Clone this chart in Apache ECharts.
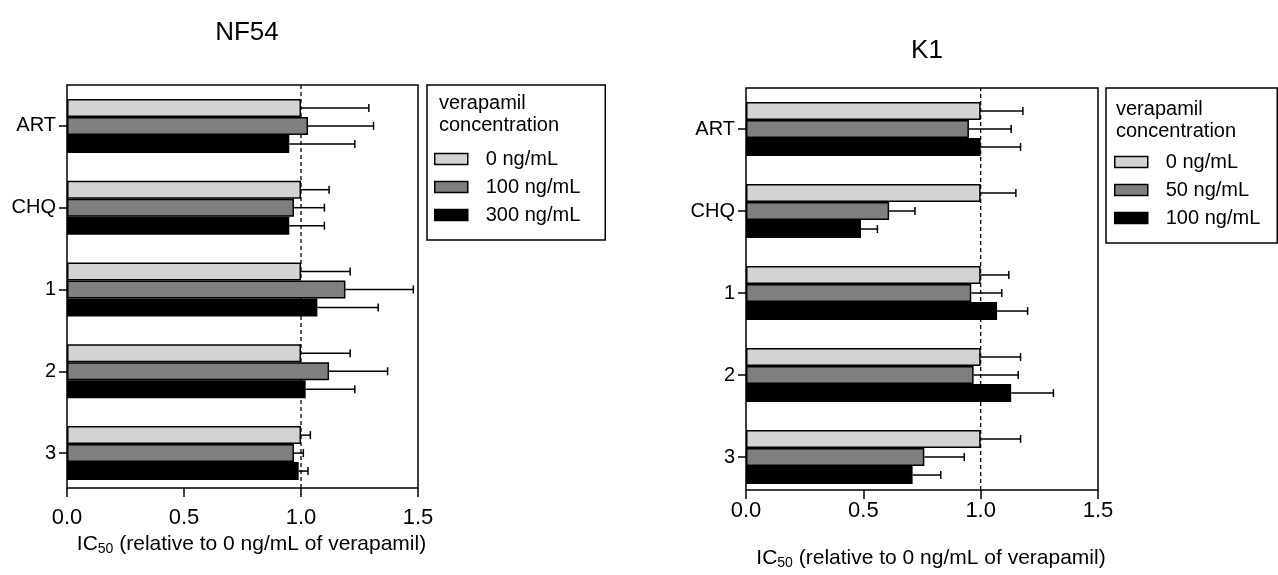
<!DOCTYPE html>
<html><head><meta charset="utf-8">
<script src="https://cdn.jsdelivr.net/npm/echarts@6/dist/echarts.min.js"></script>
<style>
html,body{margin:0;padding:0;background:#fff;}
.ch{position:absolute;left:0;top:0;width:1278px;height:575px;}
</style></head><body>
<div id="c1" class="ch"></div><div id="c2" class="ch"></div>
<script>
// ---------------- data ----------------
const categories = ['ART', 'CHQ', '1', '2', '3'];
const xAxisMin = 0, xAxisMax = 1.5, xAxisStep = 0.5;
const legendTitle = 'verapamil\nconcentration';
const axisTitle = 'IC{sub|50} (relative to 0 ng/mL of verapamil)';
const refLine = 1.0;

// NF54 panel
const nf54Title = 'NF54';
const nf54Names = ['0 ng/mL', '100 ng/mL', '300 ng/mL'];
const nf54_v0    = [1.00, 1.00, 1.00, 1.00, 1.00];
const nf54_v0_sd = [0.29, 0.12, 0.21, 0.21, 0.04];
const nf54_v1    = [1.03, 0.97, 1.19, 1.12, 0.97];
const nf54_v1_sd = [0.28, 0.13, 0.29, 0.25, 0.04];
const nf54_v2    = [0.95, 0.95, 1.07, 1.02, 0.99];
const nf54_v2_sd = [0.28, 0.15, 0.26, 0.21, 0.04];

// K1 panel
const k1Title = 'K1';
const k1Names = ['0 ng/mL', '50 ng/mL', '100 ng/mL'];
const k1_v0    = [1.00, 1.00, 1.00, 1.00, 1.00];
const k1_v0_sd = [0.18, 0.15, 0.12, 0.17, 0.17];
const k1_v1    = [0.95, 0.61, 0.96, 0.97, 0.76];
const k1_v1_sd = [0.18, 0.11, 0.13, 0.19, 0.17];
const k1_v2    = [1.00, 0.49, 1.07, 1.13, 0.71];
const k1_v2_sd = [0.17, 0.07, 0.13, 0.18, 0.12];

// ---------------- styles ----------------
const FONT = '"Liberation Sans", Arial, Helvetica, sans-serif';
const barColors = ['#d3d3d3', '#7f7f7f', '#000000'];
const GAP = 0.34;

function errorSeries(means, sds, idx) {
  return {
    type: 'custom', xAxisIndex: 0, yAxisIndex: 0, z: 5, silent: true,
    encode: { x: 1, y: 0 },
    data: means.map((m, i) => [i, m, sds[i]]),
    renderItem(params, api) {
      const ci = api.value(0), m = api.value(1), sd = api.value(2);
      const band = api.size([0, 1])[1];
      const bw = band * (1 - GAP) / 3;
      const p0 = api.coord([m, ci]);
      const p1 = api.coord([m + sd, ci]);
      const y = p0[1] + (idx - 1) * bw;
      const cap = 4;
      return {
        type: 'group', children: [
          { type: 'line', shape: { x1: p0[0], y1: y, x2: p1[0], y2: y }, style: { stroke: '#000', lineWidth: 1.5 } },
          { type: 'line', shape: { x1: p1[0], y1: y - cap, x2: p1[0], y2: y + cap }, style: { stroke: '#000', lineWidth: 1.5 } }
        ]
      };
    }
  };
}

function makeOption(cfg) {
  const series = [];
  cfg.values.forEach((vals, k) => {
    series.push({
      name: cfg.names[k], type: 'bar', xAxisIndex: 0, yAxisIndex: 0, z: 3,
      data: vals, barGap: '0%', barCategoryGap: (GAP * 100) + '%',
      itemStyle: { color: barColors[k], borderColor: '#000', borderWidth: 1.5 },
      emphasis: { disabled: true }
    });
  });
  cfg.values.forEach((vals, k) => series.push(errorSeries(vals, cfg.sds[k], k)));
  series.push({
    type: 'line', xAxisIndex: 1, yAxisIndex: 1, z: 1, silent: true,
    data: [[refLine, 0], [refLine, 1]], symbol: 'none',
    lineStyle: { color: '#000', width: 1.3, type: [4, 3] }
  });
  return {
    animation: false,
    backgroundColor: 'transparent',
    textStyle: { fontFamily: FONT },
    title: [
      { text: cfg.title, left: cfg.titleCx, top: cfg.titleTop, textAlign: 'center',
        textStyle: { fontFamily: FONT, fontSize: 26, fontWeight: 'normal', color: '#000' } },
      { text: legendTitle, left: cfg.legLeft + cfg.legTitleDx, top: cfg.legTitleTop, padding: 0,
        textStyle: { fontFamily: FONT, fontSize: 20, lineHeight: 22, fontWeight: 'normal', color: '#000' } }
    ],
    legend: {
      orient: 'vertical', left: cfg.legLeft, top: cfg.legTop,
      padding: cfg.legPad, itemWidth: 33, itemHeight: 11, itemGap: 8,
      borderColor: '#000', borderWidth: 1.5, selectedMode: false, icon: 'rect',
      data: cfg.names,
      itemStyle: { borderColor: '#000', borderWidth: 1.5 },
      textStyle: { fontFamily: FONT, fontSize: 20, lineHeight: 20, color: '#000', padding: [0, 0, 0, 13] }
    },
    grid: [
      { left: cfg.left, width: cfg.width, top: cfg.top, height: cfg.barH, containLabel: false },
      { left: cfg.left, width: cfg.width, top: cfg.top, height: cfg.frameH, containLabel: false,
        show: true, borderColor: '#000', borderWidth: 1.5, backgroundColor: 'transparent' }
    ],
    xAxis: [
      { gridIndex: 0, type: 'value', min: xAxisMin, max: xAxisMax, show: false },
      { gridIndex: 1, type: 'value', min: xAxisMin, max: xAxisMax, interval: xAxisStep,
        axisLine: { show: false },
        axisTick: { show: true, length: cfg.tickLen, lineStyle: { color: '#000', width: 1.5 } },
        axisLabel: { fontFamily: FONT, fontSize: 22, color: '#000', margin: cfg.labelMargin,
          formatter: v => v.toFixed(1) },
        splitLine: { show: false },
        name: axisTitle, nameLocation: 'middle', nameGap: cfg.nameGap,
        nameTextStyle: { fontFamily: FONT, fontSize: 21, color: '#000', padding: [0, 0, 0, 18],
          rich: { sub: { fontFamily: FONT, fontSize: 14, color: '#000', padding: [9, 0, 0, 0] } } }
      }
    ],
    yAxis: [
      { gridIndex: 0, type: 'category', data: categories, inverse: true,
        axisLine: { show: false },
        axisTick: { show: true, alignWithLabel: true, length: 8, lineStyle: { color: '#000', width: 1.5 } },
        axisLabel: { fontFamily: FONT, fontSize: 20, color: '#000', margin: 11 },
        splitLine: { show: false }
      },
      { gridIndex: 1, type: 'value', min: 0, max: 1, show: false }
    ],
    series
  };
}

const opt1 = makeOption({
  title: nf54Title, titleCx: 242, titleTop: 15,
  names: nf54Names,
  values: [nf54_v0, nf54_v1, nf54_v2], sds: [nf54_v0_sd, nf54_v1_sd, nf54_v2_sd],
  left: 67, width: 351, top: 85, barH: 409, frameH: 403,
  tickLen: 9, labelMargin: 19, nameGap: 42,
  legLeft: 427, legTop: 85, legPad: [64, 25, 15, 7], legTitleDx: 12, legTitleTop: 92
});
const opt2 = makeOption({
  title: k1Title, titleCx: 922, titleTop: 33,
  names: k1Names,
  values: [k1_v0, k1_v1, k1_v2], sds: [k1_v0_sd, k1_v1_sd, k1_v2_sd],
  left: 746, width: 352, top: 88, barH: 410, frameH: 410,
  tickLen: 9, labelMargin: 10, nameGap: 57,
  legLeft: 1106, legTop: 88, legPad: [64, 17, 15, 8], legTitleDx: 10, legTitleTop: 98
});
echarts.init(document.getElementById('c1'), null, { renderer: 'canvas' }).setOption(opt1);
echarts.init(document.getElementById('c2'), null, { renderer: 'canvas' }).setOption(opt2);
</script>
</body></html>
